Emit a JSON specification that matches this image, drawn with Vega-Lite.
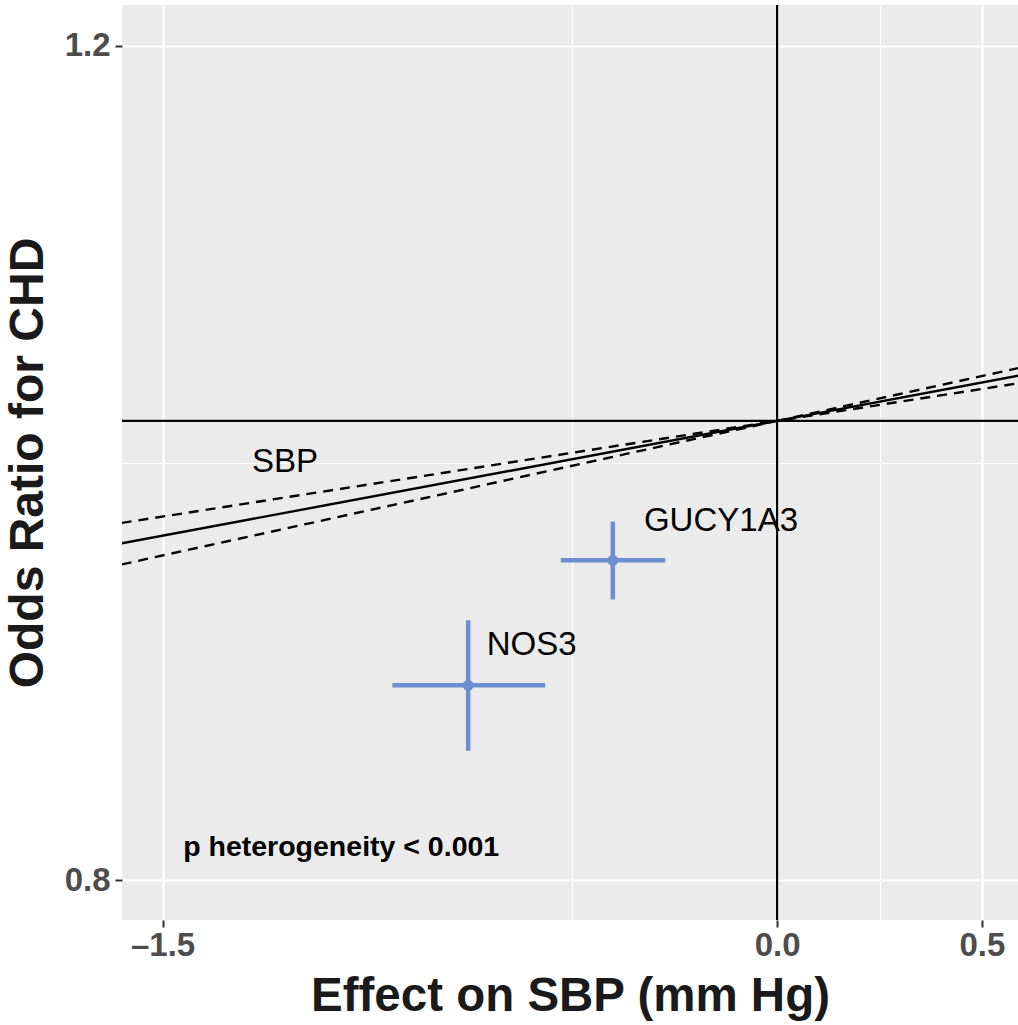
{
  "$schema": "https://vega.github.io/schema/vega-lite/v6.json",
  "width": 896,
  "height": 915,
  "autosize": {"type": "none"},
  "padding": {"left": 122, "top": 5, "right": 0, "bottom": 105},
  "background": "white",
  "config": {
    "view": {"fill": "#EBEBEB", "stroke": null},
    "font": "Liberation Sans"
  },
  "datasets": {
    "genes": [
      {"gene": "GUCY1A3", "x": -0.401, "xlo": -0.528, "xhi": -0.273, "or": 0.9345, "orlo": 0.9169, "orhi": 0.9522, "lx": -0.137, "ly": 0.9525},
      {"gene": "NOS3", "x": -0.754, "xlo": -0.939, "xhi": -0.566, "or": 0.8794, "orlo": 0.8519, "orhi": 0.9077, "lx": -0.599, "ly": 0.8968}
    ],
    "sbp": [
      {"series": "estimate", "x": -1.6, "or": 0.9422},
      {"series": "estimate", "x": 0, "or": 1.0},
      {"series": "estimate", "x": 0.6, "or": 1.0226},
      {"series": "upper", "x": -1.6, "or": 0.9516},
      {"series": "upper", "x": 0, "or": 1.0},
      {"series": "upper", "x": 0.6, "or": 1.0265},
      {"series": "lower", "x": -1.6, "or": 0.9326},
      {"series": "lower", "x": 0, "or": 1.0},
      {"series": "lower", "x": 0.6, "or": 1.0188}
    ],
    "labels": [
      {"text": "SBP", "x": -1.201, "or": 0.98, "kind": "plain"},
      {"text": "p heterogeneity < 0.001", "x": -1.064, "or": 0.8129, "kind": "bold"}
    ]
  },
  "layer": [
    {
      "data": {"values": [{"x": 0}]},
      "mark": {"type": "rule", "color": "black", "strokeWidth": 2.2},
      "encoding": {
        "x": {
          "field": "x", "type": "quantitative",
          "scale": {"domain": [-1.599, 0.588], "nice": false, "zero": false},
          "axis": {
            "values": [-1.5, -0.5, 0, 0.25, 0.5],
            "labelExpr": "datum.value == -1.5 ? '\u20131.5' : (datum.value == 0 ? '0.0' : (datum.value == 0.5 ? '0.5' : ''))",
            "grid": true,
            "gridColor": "white",
            "gridWidth": {"condition": {"test": "datum.value == -0.5 || datum.value == 0.25", "value": 1}, "value": 2.2},
            "domain": false,
            "tickColor": "#333333",
            "tickWidth": 2,
            "tickSize": 7,
            "tickOpacity": {"condition": {"test": "datum.value == -0.5 || datum.value == 0.25", "value": 0}, "value": 1},
            "labelFont": "Liberation Sans",
            "labelFontWeight": "bold",
            "labelFontSize": 33,
            "labelColor": "#4D4D4D",
            "labelPadding": 2,
            "labelFlush": false,
            "labelOverlap": false,
            "title": "Effect on SBP (mm Hg)",
            "titleFont": "Liberation Sans",
            "titleFontWeight": "bold",
            "titleFontSize": 47.5,
            "titleColor": "#1A1A1A",
            "titlePadding": 10
          }
        }
      }
    },
    {
      "data": {"values": [{"or": 1.0}]},
      "mark": {"type": "rule", "color": "black", "strokeWidth": 2.2},
      "encoding": {
        "y": {
          "field": "or", "type": "quantitative",
          "scale": {"type": "log", "domain": [0.7846, 1.224], "nice": false, "zero": false},
          "axis": {
            "values": [0.8, 0.9798, 1.2],
            "labelExpr": "datum.value == 0.8 ? '0.8' : (datum.value == 1.2 ? '1.2' : '')",
            "grid": true,
            "gridColor": "white",
            "gridWidth": {"condition": {"test": "datum.value > 0.9 && datum.value < 1.1", "value": 1}, "value": 2.2},
            "domain": false,
            "tickColor": "#333333",
            "tickWidth": 2,
            "tickSize": 7,
            "tickOpacity": {"condition": {"test": "datum.value > 0.9 && datum.value < 1.1", "value": 0}, "value": 1},
            "labelFont": "Liberation Sans",
            "labelFontWeight": "bold",
            "labelFontSize": 33,
            "labelColor": "#4D4D4D",
            "labelPadding": 5,
            "labelOverlap": false,
            "title": "Odds Ratio for CHD",
            "titleFont": "Liberation Sans",
            "titleFontWeight": "bold",
            "titleFontSize": 48,
            "titleColor": "#1A1A1A",
            "titlePadding": 12
          }
        }
      }
    },
    {
      "data": {"name": "sbp"},
      "transform": [{"filter": "datum.series == 'estimate'"}],
      "mark": {"type": "line", "color": "black", "strokeWidth": 2.4, "clip": true},
      "encoding": {
        "x": {"field": "x", "type": "quantitative"},
        "y": {"field": "or", "type": "quantitative"}
      }
    },
    {
      "data": {"name": "sbp"},
      "transform": [{"filter": "datum.series != 'estimate'"}],
      "mark": {"type": "line", "color": "black", "strokeWidth": 2.4, "strokeDash": [10, 7], "clip": true},
      "encoding": {
        "x": {"field": "x", "type": "quantitative"},
        "y": {"field": "or", "type": "quantitative"},
        "detail": {"field": "series"}
      }
    },
    {
      "data": {"name": "genes"},
      "mark": {"type": "rule", "color": "#6B8FD1", "strokeWidth": 4.5},
      "encoding": {
        "x": {"field": "xlo", "type": "quantitative"},
        "x2": {"field": "xhi"},
        "y": {"field": "or", "type": "quantitative"}
      }
    },
    {
      "data": {"name": "genes"},
      "mark": {"type": "rule", "color": "#6B8FD1", "strokeWidth": 4.5},
      "encoding": {
        "x": {"field": "x", "type": "quantitative"},
        "y": {"field": "orlo", "type": "quantitative"},
        "y2": {"field": "orhi"}
      }
    },
    {
      "data": {"name": "genes"},
      "mark": {"type": "circle", "color": "#6B8FD1", "opacity": 1, "size": 120},
      "encoding": {
        "x": {"field": "x", "type": "quantitative"},
        "y": {"field": "or", "type": "quantitative"}
      }
    },
    {
      "data": {"name": "genes"},
      "mark": {"type": "text", "font": "Liberation Sans", "fontSize": 33, "color": "black", "align": "center", "baseline": "middle"},
      "encoding": {
        "x": {"field": "lx", "type": "quantitative"},
        "y": {"field": "ly", "type": "quantitative"},
        "text": {"field": "gene"}
      }
    },
    {
      "data": {"name": "labels"},
      "transform": [{"filter": "datum.kind == 'plain'"}],
      "mark": {"type": "text", "font": "Liberation Sans", "fontSize": 33, "color": "black", "align": "center", "baseline": "middle"},
      "encoding": {
        "x": {"field": "x", "type": "quantitative"},
        "y": {"field": "or", "type": "quantitative"},
        "text": {"field": "text"}
      }
    },
    {
      "data": {"name": "labels"},
      "transform": [{"filter": "datum.kind == 'bold'"}],
      "mark": {"type": "text", "font": "Liberation Sans", "fontSize": 28.5, "fontWeight": "bold", "color": "black", "align": "center", "baseline": "middle"},
      "encoding": {
        "x": {"field": "x", "type": "quantitative"},
        "y": {"field": "or", "type": "quantitative"},
        "text": {"field": "text"}
      }
    }
  ]
}
